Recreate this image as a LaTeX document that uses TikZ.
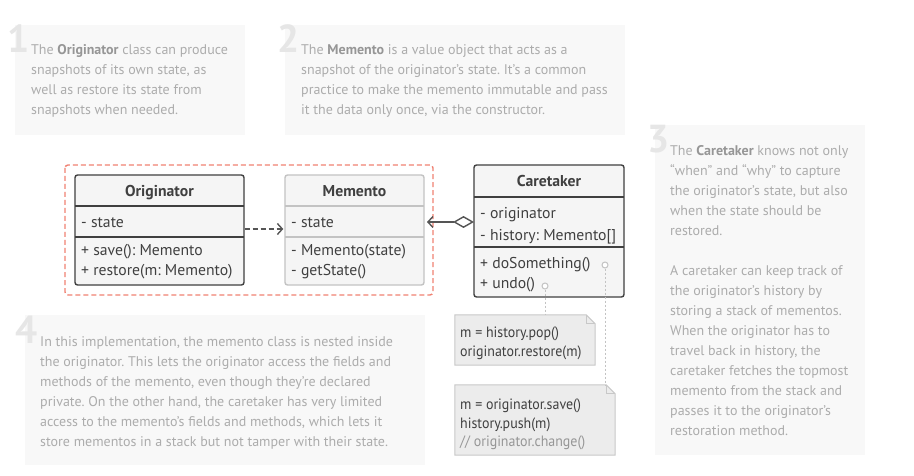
\documentclass[tikz,border=0pt]{standalone}
\usepackage{fontspec}
\setmainfont{PT Sans}
\newfontfamily\notefont[FakeStretch=0.93]{PT Sans}
\usetikzlibrary{arrows.meta,calc}
\frenchspacing
\definecolor{descfill}{RGB}{248,248,248}
\definecolor{desctext}{RGB}{172,172,172}
\definecolor{descbold}{RGB}{150,150,150}
\definecolor{numcol}{RGB}{230,230,230}
\definecolor{umldark}{RGB}{64,64,64}
\definecolor{umlfill}{RGB}{245,245,245}
\definecolor{memborder}{RGB}{195,195,195}
\definecolor{redline}{RGB}{240,130,115}
\definecolor{arrowcol}{RGB}{85,85,85}
\definecolor{notefill}{RGB}{236,236,236}
\definecolor{noteborder}{RGB}{200,200,200}
\definecolor{commentcol}{RGB}{150,150,150}
\begin{document}
\begin{tikzpicture}[x=1pt,y=-1pt,
  descbox/.style={fill=descfill,draw=none},
  num/.style={font=\fontsize{39}{39}\selectfont\bfseries,text=numcol,inner sep=0pt,anchor=base west},
  desc/.style={font=\fontsize{14}{20}\selectfont\frenchspacing,text=desctext,inner sep=0pt,anchor=north west,align=left},
  classbox/.style={draw=umldark,fill=umlfill,line width=1.4pt,rounded corners=2.5pt,inner sep=0pt},
  sepline/.style={draw=umldark,line width=1.4pt},
  title/.style={font=\fontsize{15.7}{18}\selectfont\bfseries,text=umldark,inner sep=0pt,anchor=base},
  member/.style={font=\fontsize{15.7}{18}\selectfont,text=umldark,inner sep=0pt,anchor=base west},
  notetext/.style={font=\notefont\fontsize{15}{17}\selectfont,text=umldark,inner sep=0pt,anchor=base west},
  notebox/.style={draw=noteborder,fill=notefill,line width=1pt},
  hook/.style={circle,draw=memborder,line width=1pt,minimum size=6pt,inner sep=0pt,fill=white},
  dotline/.style={draw=memborder,line width=1pt,dash pattern=on 2pt off 2pt},
  conn/.style={draw=arrowcol,line width=1.4pt}
]
\useasboundingbox[fill=white] (0,0) rectangle (914,476);

% ---------- description boxes ----------
\fill[descbox] (15,25) rectangle (245,135);
\node[num] (n1) at (7,53) {1};
\node[desc] (t1) at (31,44) {The \textbf{\color{descbold}Originator} class can produce\\snapshots of its own state, as\\well as restore its state from\\snapshots when needed.};

\fill[descbox] (285,25) rectangle (625,135);
\node[num] (n2) at (277,53) {2};
\node[desc] (t2) at (301,44) {The \textbf{\color{descbold}Memento} is a value object that acts as a\\snapshot of the originator's state. It's a common\\practice to make the memento immutable and pass\\it the data only once, via the constructor.};

\fill[descbox] (655,125) rectangle (865,455);
\node[num] (n3) at (647,153) {3};
\node[desc] (t3) at (670,145) {The \textbf{\color{descbold}Caretaker} knows not only\\``when'' and ``why'' to capture\\the originator's state, but also\\when the state should be\\restored.\\[20pt]A caretaker can keep track of\\the originator's history by\\storing a stack of mementos.\\When the originator has to\\travel back in history, the\\caretaker fetches the topmost\\memento from the stack and\\passes it to the originator's\\restoration method.};

\fill[descbox] (25,315) rectangle (425,465);
\node[num] (n4) at (15,343) {4};
\node[desc] (t4) at (40,336) {In this implementation, the memento class is nested inside\\the originator. This lets the originator access the fields and\\methods of the memento, even though they're declared\\private. On the other hand, the caretaker has very limited\\access to the memento's fields and methods, which lets it\\store mementos in a stack but not tamper with their state.};

% ---------- nested group ----------
\draw[redline,line width=1.4pt,dash pattern=on 5pt off 3pt,rounded corners=3pt] (65,165) rectangle (433,295);

% ---------- Originator ----------
\node[classbox,minimum width=169pt,minimum height=110pt] (orig) at (159.5,230) {};
\draw[sepline] (75,206) -- (244,206);
\draw[sepline] (75,237) -- (244,237);
\node[title] (origT) at (159.5,196.5) {Originator};
\node[member] (origA) at (81,227.5) {- state};
\node[member] (origM1) at (81,255.5) {+ save(): Memento};
\node[member] (origM2) at (81,275.5) {+ restore(m: Memento)};

% ---------- Memento ----------
\node[classbox,draw=memborder,minimum width=139pt,minimum height=110pt] (mem) at (354.5,230) {};
\draw[sepline,draw=memborder] (285,206) -- (424,206);
\draw[sepline,draw=memborder] (285,237) -- (424,237);
\node[title] (memT) at (354.5,196.5) {Memento};
\node[member] (memA) at (291,227.5) {- state};
\node[member] (memM1) at (291,255.5) {- Memento(state)};
\node[member] (memM2) at (291,275.5) {- getState()};

% ---------- Caretaker ----------
\node[classbox,minimum width=150pt,minimum height=132pt] (care) at (549,231) {};
\draw[sepline] (474,197) -- (624,197);
\draw[sepline] (474,247) -- (624,247);
\node[title] (careT) at (549,186.5) {Caretaker};
\node[member] (careA1) at (480,218.5) {- originator};
\node[member] (careA2) at (480,240.5) {- history: Memento[]};
\node[member] (careM1) at (480,268.5) {+ doSomething()};
\node[member] (careM2) at (480,288.5) {+ undo()};

% ---------- connectors ----------
\coordinate (depS) at ($(orig.east)+(0,-1)$);
\coordinate (depE) at ($(mem.west)+(-1,-1)$);
\draw[conn,dash pattern=on 5pt off 3pt,-{Straight Barb[length=5pt,width=11pt,line width=1.4pt]}] (depS) -- (depE);
\coordinate (aggS) at (474,222);
\coordinate (aggE) at (427,222);
\draw[conn,{Diamond[open,length=21pt,width=12pt,line width=1.4pt,fill=white]}-{Straight Barb[length=5pt,width=11pt,line width=1.4pt]}] (aggS) -- (aggE);

% ---------- notes ----------
\node[minimum width=140pt,minimum height=50pt,inner sep=0pt] (note1) at (525,340) {};
\draw[notebox] (note1.north west) -- ($(note1.north east)+(-9,0)$) -- ($(note1.north east)+(0,9)$) -- (note1.south east) -- (note1.south west) -- cycle;
\draw[noteborder,line width=1pt] ($(note1.north east)+(-9,0)$) -- ($(note1.north east)+(-9,9)$) -- ($(note1.north east)+(0,9)$);
\node[notetext] (note1a) at (460,337) {m = history.pop()};
\node[notetext] (note1b) at (460,356) {originator.restore(m)};

\node[minimum width=160pt,minimum height=70pt,inner sep=0pt] (note2) at (535,420) {};
\draw[notebox] (note2.north west) -- ($(note2.north east)+(-9,0)$) -- ($(note2.north east)+(0,9)$) -- (note2.south east) -- (note2.south west) -- cycle;
\draw[noteborder,line width=1pt] ($(note2.north east)+(-9,0)$) -- ($(note2.north east)+(-9,9)$) -- ($(note2.north east)+(0,9)$);
\node[notetext] (note2a) at (460,409.5) {m = originator.save()};
\node[notetext] (note2b) at (460,428) {history.push(m)};
\node[notetext,text=commentcol] (note2c) at (460,446.5) {// originator.change()};

% ---------- hooks ----------
\node[hook] (h1) at (545,286) {};
\node[hook] (h2) at (605,265) {};
\draw[dotline] (h1.south) -- (h1.south |- note1.north);
\draw[dotline] (h2.south) -- (h2.south |- note2.north);
\end{tikzpicture}
\end{document}
